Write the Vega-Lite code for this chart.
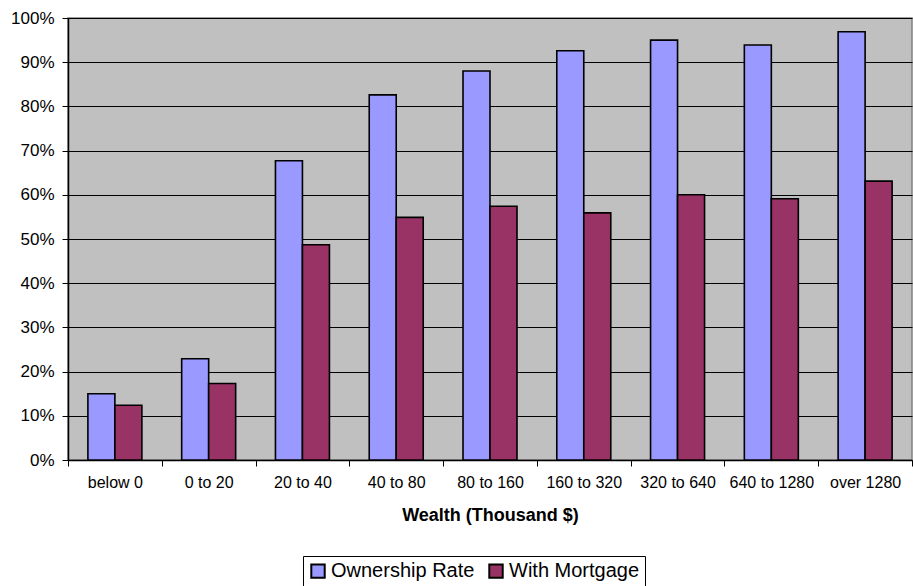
{
  "$schema": "https://vega.github.io/schema/vega-lite/v6.json",
  "width": 844,
  "height": 442,
  "autosize": "none",
  "padding": {"left": 68, "top": 18, "right": 1, "bottom": 126},
  "background": "white",
  "config": {
    "font": "Liberation Sans",
    "view": {"fill": "#C0C0C0", "stroke": "#808080", "strokeWidth": 1.5}
  },
  "data": {
    "values": [
      {"wealth": "below 0", "series": "Ownership Rate", "value": 0.150},
      {"wealth": "below 0", "series": "With Mortgage", "value": 0.124},
      {"wealth": "0 to 20", "series": "Ownership Rate", "value": 0.229},
      {"wealth": "0 to 20", "series": "With Mortgage", "value": 0.173},
      {"wealth": "20 to 40", "series": "Ownership Rate", "value": 0.677},
      {"wealth": "20 to 40", "series": "With Mortgage", "value": 0.487},
      {"wealth": "40 to 80", "series": "Ownership Rate", "value": 0.826},
      {"wealth": "40 to 80", "series": "With Mortgage", "value": 0.549},
      {"wealth": "80 to 160", "series": "Ownership Rate", "value": 0.880},
      {"wealth": "80 to 160", "series": "With Mortgage", "value": 0.574},
      {"wealth": "160 to 320", "series": "Ownership Rate", "value": 0.926},
      {"wealth": "160 to 320", "series": "With Mortgage", "value": 0.559},
      {"wealth": "320 to 640", "series": "Ownership Rate", "value": 0.950},
      {"wealth": "320 to 640", "series": "With Mortgage", "value": 0.600},
      {"wealth": "640 to 1280", "series": "Ownership Rate", "value": 0.939},
      {"wealth": "640 to 1280", "series": "With Mortgage", "value": 0.591},
      {"wealth": "over 1280", "series": "Ownership Rate", "value": 0.969},
      {"wealth": "over 1280", "series": "With Mortgage", "value": 0.631}
    ]
  },
  "mark": {"type": "bar", "stroke": "black", "strokeWidth": 1.6},
  "encoding": {
    "x": {
      "field": "wealth",
      "type": "nominal",
      "sort": null,
      "scale": {"paddingInner": 0, "paddingOuter": 0},
      "axis": {
        "title": "Wealth (Thousand $)",
        "titleFontSize": 18,
        "titleFontWeight": "bold",
        "titleColor": "black",
        "titlePadding": 16,
        "labelAngle": 0,
        "labelFontSize": 16,
        "labelColor": "black",
        "labelPadding": 8,
        "tickBand": "extent",
        "tickSize": 6,
        "tickColor": "black",
        "domainColor": "black",
        "domainWidth": 1.5,
        "grid": false
      }
    },
    "xOffset": {
      "field": "series",
      "type": "nominal",
      "scale": {"paddingInner": 0, "paddingOuter": 0.737}
    },
    "y": {
      "field": "value",
      "type": "quantitative",
      "scale": {"domain": [0, 1], "nice": false},
      "axis": {
        "title": null,
        "format": ".0%",
        "values": [0, 0.1, 0.2, 0.3, 0.4, 0.5, 0.6, 0.7, 0.8, 0.9, 1],
        "labelFontSize": 17,
        "labelColor": "black",
        "labelPadding": 8,
        "tickSize": 6,
        "tickColor": "black",
        "domainColor": "black",
        "domainWidth": 1.5,
        "grid": true,
        "gridColor": "black",
        "gridWidth": 1,
        "gridOpacity": 1
      }
    },
    "fill": {
      "field": "series",
      "type": "nominal",
      "scale": {"domain": ["Ownership Rate", "With Mortgage"], "range": ["#9999FF", "#993366"]},
      "legend": {
        "title": null,
        "orient": "none",
        "legendX": 235,
        "legendY": 538,
        "direction": "horizontal",
        "columns": 2,
        "symbolType": "square",
        "symbolSize": 180,
        "symbolStrokeColor": "black",
        "symbolStrokeWidth": 2,
        "symbolOpacity": 1,
        "labelFontSize": 20,
        "labelColor": "black",
        "labelOffset": 3,
        "columnPadding": 10,
        "padding": 5,
        "strokeColor": "black",
        "fillColor": "white"
      }
    }
  }
}
